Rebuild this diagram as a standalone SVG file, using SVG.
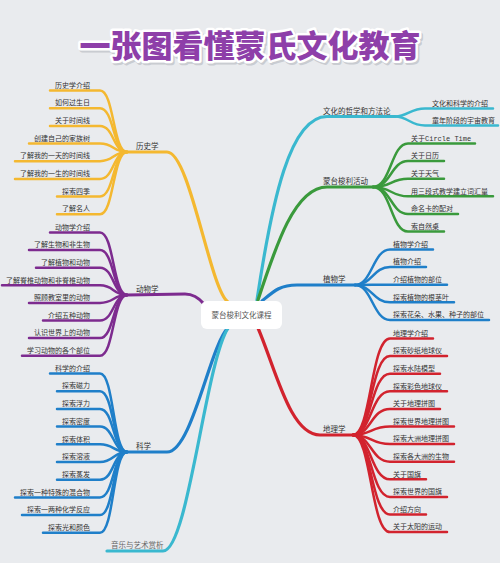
<svg xmlns="http://www.w3.org/2000/svg" width="500" height="563" viewBox="0 0 500 563">
<style>
.t{font-family:"Noto Sans CJK SC","Noto Sans",sans-serif;font-size:7px;fill:#333}
.m{font-family:"Noto Sans CJK SC","Noto Sans",sans-serif;font-size:7.5px;fill:#333}
.L{text-anchor:end}
.c path{fill:none;stroke-linecap:round;stroke-linejoin:round}
.y path{stroke:#f4b830}.p path{stroke:#7d2b8f}.b path{stroke:#1f7fc9}.cy path{stroke:#3ab8cf}.g path{stroke:#3a9a3c}.r path{stroke:#d2232e}
.lf{stroke-width:2.5}.mn{stroke-width:3.2}
.title{font-family:"Noto Sans CJK SC",sans-serif;font-size:31px;font-weight:900;text-anchor:middle}
</style>
<rect width="500" height="563" fill="#e9ebee"/>
<g id="title">
<text class="title" x="251.5" y="58.5" fill="#c9ccd1" stroke="#c9ccd1" stroke-width="5" stroke-linejoin="round">一张图看懂蒙氏文化教育</text>
<text class="title" x="250" y="57" fill="#8e3fa9" stroke="#fff" stroke-width="5" stroke-linejoin="round" paint-order="stroke">一张图看懂蒙氏文化教育</text>
</g>
<g id="connectors" class="c">
<g class="y">
<path class="mn" d="M127,152 L167,152 C190,152 210,290 228,302"/>
<path class="lf" d="M50,90.5 L100,90.5 C114,90.5 113,152 127,152"/>
<path class="lf" d="M50,108.2 L100,108.2 C114,108.2 113,152 127,152"/>
<path class="lf" d="M50,125.9 L100,125.9 C114,125.9 113,152 127,152"/>
<path class="lf" d="M29,143.5 L100,143.5 C114,143.5 113,152 127,152"/>
<path class="lf" d="M15,161.2 L100,161.2 C114,161.2 113,152 127,152"/>
<path class="lf" d="M15,178.9 L100,178.9 C114,178.9 113,152 127,152"/>
<path class="lf" d="M57,196.5 L100,196.5 C114,196.5 113,152 127,152"/>
<path class="lf" d="M57,214.2 L100,214.2 C114,214.2 113,152 127,152"/>
</g>
<g class="p">
<path class="mn" d="M127,295 L185,294 C194,294 199,298 204,304"/>
<path class="lf" d="M50,232.5 L100,232.5 C114,232.5 113,295 127,295"/>
<path class="lf" d="M29,250.1 L100,250.1 C114,250.1 113,295 127,295"/>
<path class="lf" d="M36,267.7 L100,267.7 C114,267.7 113,295 127,295"/>
<path class="lf" d="M2,285.3 L100,285.3 C114,285.3 113,295 127,295"/>
<path class="lf" d="M29,302.9 L100,302.9 C114,302.9 113,295 127,295"/>
<path class="lf" d="M43,320.5 L100,320.5 C114,320.5 113,295 127,295"/>
<path class="lf" d="M29,338.1 L100,338.1 C114,338.1 113,295 127,295"/>
<path class="lf" d="M22,355.7 L100,355.7 C114,355.7 113,295 127,295"/>
</g>
<g class="b">
<path class="mn" d="M127,452 L167,452 C192,452 210,345 228,328"/>
<path class="lf" d="M50,373.5 L100,373.5 C114,373.5 113,452 127,452"/>
<path class="lf" d="M57,391.2 L100,391.2 C114,391.2 113,452 127,452"/>
<path class="lf" d="M57,408.9 L100,408.9 C114,408.9 113,452 127,452"/>
<path class="lf" d="M57,426.6 L100,426.6 C114,426.6 113,452 127,452"/>
<path class="lf" d="M57,444.3 L100,444.3 C114,444.3 113,452 127,452"/>
<path class="lf" d="M57,462 L100,462 C114,462 113,452 127,452"/>
<path class="lf" d="M57,479.7 L100,479.7 C114,479.7 113,452 127,452"/>
<path class="lf" d="M15,497.4 L100,497.4 C114,497.4 113,452 127,452"/>
<path class="lf" d="M22,515.1 L100,515.1 C114,515.1 113,452 127,452"/>
<path class="lf" d="M43,532.8 L100,532.8 C114,532.8 113,452 127,452"/>
</g>
<g class="cy">
<path class="mn" d="M107,551 L163,551 C188,551 205,365 228,328"/>
<path class="mn" d="M257,300 C272,200 290,116.5 327,116.5 L395,116.5"/>
<path class="lf" d="M395,116.5 C408,116.5 410,108.5 425,108.5 L493,108.5"/>
<path class="lf" d="M395,116.5 C408,116.5 410,125.5 425,125.5 L498,125.5"/>
</g>
<g class="g">
<path class="mn" d="M258,300 C276,245 295,187 327,187 L373,187"/>
<path class="lf" d="M373,187 C391,187 391,143.5 408,143.5 L475,143.5"/>
<path class="lf" d="M373,187 C391,187 391,161.1 408,161.1 L444,161.1"/>
<path class="lf" d="M373,187 C391,187 391,178.7 408,178.7 L444,178.7"/>
<path class="lf" d="M373,187 C391,187 391,196.3 408,196.3 L493,196.3"/>
<path class="lf" d="M373,187 C391,187 391,213.9 408,213.9 L458,213.9"/>
<path class="lf" d="M373,187 C391,187 391,231.5 408,231.5 L444,231.5"/>
</g>
<g class="b">
<path class="mn" d="M262,301 C274,291 280,285 297,285 L355,285"/>
<path class="lf" d="M355,285 C372,285 373,249.5 390,249.5 L433,249.5"/>
<path class="lf" d="M355,285 C372,285 373,267.1 390,267.1 L426,267.1"/>
<path class="lf" d="M355,285 C372,285 373,284.7 390,284.7 L447,284.7"/>
<path class="lf" d="M355,285 C372,285 373,302.3 390,302.3 L454,302.3"/>
<path class="lf" d="M355,285 C372,285 373,319.9 390,319.9 L489,319.9"/>
</g>
<g class="r">
<path class="mn" d="M258,328 C276,370 290,435 320,435 L353,435"/>
<path class="lf" d="M353,435 C371,435 371,338.5 390,338.5 L433,338.5"/>
<path class="lf" d="M353,435 C371,435 371,356.1 390,356.1 L447,356.1"/>
<path class="lf" d="M353,435 C371,435 371,373.7 390,373.7 L440,373.7"/>
<path class="lf" d="M353,435 C371,435 371,391.3 390,391.3 L447,391.3"/>
<path class="lf" d="M353,435 C371,435 371,408.9 390,408.9 L440,408.9"/>
<path class="lf" d="M353,435 C371,435 371,426.5 390,426.5 L454,426.5"/>
<path class="lf" d="M353,435 C371,435 371,444.1 390,444.1 L454,444.1"/>
<path class="lf" d="M353,435 C371,435 371,461.7 390,461.7 L454,461.7"/>
<path class="lf" d="M353,435 C371,435 371,479.3 390,479.3 L426,479.3"/>
<path class="lf" d="M353,435 C371,435 371,496.9 390,496.9 L447,496.9"/>
<path class="lf" d="M353,435 C371,435 371,514.5 390,514.5 L426,514.5"/>
<path class="lf" d="M353,435 C371,435 371,532.1 390,532.1 L447,532.1"/>
</g>
</g>
<g id="center">
<rect x="201" y="301" width="81" height="28" rx="6" fill="#fff"/>
<text class="m" x="241.5" y="317.5" text-anchor="middle" fill="#555" style="fill:#555">蒙台梭利文化课程</text>
</g>
<g id="history">
<text class="m" x="136" y="148.5">历史学</text>
<text class="t L" x="90" y="87.7">历史学介绍</text>
<text class="t L" x="90" y="105.4">如何过生日</text>
<text class="t L" x="90" y="123.1">关于时间线</text>
<text class="t L" x="90" y="140.7">创建自己的家族树</text>
<text class="t L" x="90" y="158.4">了解我的一天的时间线</text>
<text class="t L" x="90" y="176.1">了解我的一生的时间线</text>
<text class="t L" x="90" y="193.7">探索四季</text>
<text class="t L" x="90" y="211.4">了解名人</text>
</g>
<g id="zoology">
<text class="m" x="136" y="291.5">动物学</text>
<text class="t L" x="90" y="229.7">动物学介绍</text>
<text class="t L" x="90" y="247.3">了解生物和非生物</text>
<text class="t L" x="90" y="264.9">了解植物和动物</text>
<text class="t L" x="90" y="282.5">了解脊椎动物和非脊椎动物</text>
<text class="t L" x="90" y="300.1">照顾教室里的动物</text>
<text class="t L" x="90" y="317.7">介绍五种动物</text>
<text class="t L" x="90" y="335.3">认识世界上的动物</text>
<text class="t L" x="90" y="352.9">学习动物的各个部位</text>
</g>
<g id="science">
<text class="m" x="136" y="448.5">科学</text>
<text class="t L" x="90" y="370.7">科学的介绍</text>
<text class="t L" x="90" y="388.4">探索磁力</text>
<text class="t L" x="90" y="406.1">探索浮力</text>
<text class="t L" x="90" y="423.8">探索密度</text>
<text class="t L" x="90" y="441.5">探索体积</text>
<text class="t L" x="90" y="459.2">探索溶液</text>
<text class="t L" x="90" y="476.9">探索蒸发</text>
<text class="t L" x="90" y="494.6">探索一种特殊的混合物</text>
<text class="t L" x="90" y="512.3">探索一两种化学反应</text>
<text class="t L" x="90" y="530">探索光和颜色</text>
</g>
<g id="music">
<text class="m" x="111" y="547.5" style="fill:#666">音乐与艺术赏析</text>
</g>
<g id="philosophy">
<text class="m" x="323" y="113.5">文化的哲学和方法论</text>
<text class="t" x="432" y="105.7">文化和科学的介绍</text>
<text class="t" x="432" y="122.7">童年阶段的宇宙教育</text>
</g>
<g id="activities">
<text class="m" x="323" y="184">蒙台梭利活动</text>
<text class="t" x="411" y="140.7">关于<tspan font-family="Liberation Mono,monospace">Circle Time</tspan></text>
<text class="t" x="411" y="158.3">关于日历</text>
<text class="t" x="411" y="175.9">关于天气</text>
<text class="t" x="411" y="193.5">用三段式教学建立词汇量</text>
<text class="t" x="411" y="211.1">命名卡的配对</text>
<text class="t" x="411" y="228.7">索自然桌</text>
</g>
<g id="botany">
<text class="m" x="323" y="282">植物学</text>
<text class="t" x="393" y="246.7">植物学介绍</text>
<text class="t" x="393" y="264.3">植物介绍</text>
<text class="t" x="393" y="281.9">介绍植物的部位</text>
<text class="t" x="393" y="299.5">探索植物的根茎叶</text>
<text class="t" x="393" y="317.1">探索花朵、水果、种子的部位</text>
</g>
<g id="geography">
<text class="m" x="323" y="432">地理学</text>
<text class="t" x="393" y="335.7">地理学介绍</text>
<text class="t" x="393" y="353.3">探索砂纸地球仪</text>
<text class="t" x="393" y="370.9">探索水陆模型</text>
<text class="t" x="393" y="388.5">探索彩色地球仪</text>
<text class="t" x="393" y="406.1">关于地理拼图</text>
<text class="t" x="393" y="423.7">探索世界地理拼图</text>
<text class="t" x="393" y="441.3">探索大洲地理拼图</text>
<text class="t" x="393" y="458.9">探索各大洲的生物</text>
<text class="t" x="393" y="476.5">关于国旗</text>
<text class="t" x="393" y="494.1">探索世界的国旗</text>
<text class="t" x="393" y="511.7">介绍方向</text>
<text class="t" x="393" y="529.3">关于太阳的运动</text>
</g>
</svg>
